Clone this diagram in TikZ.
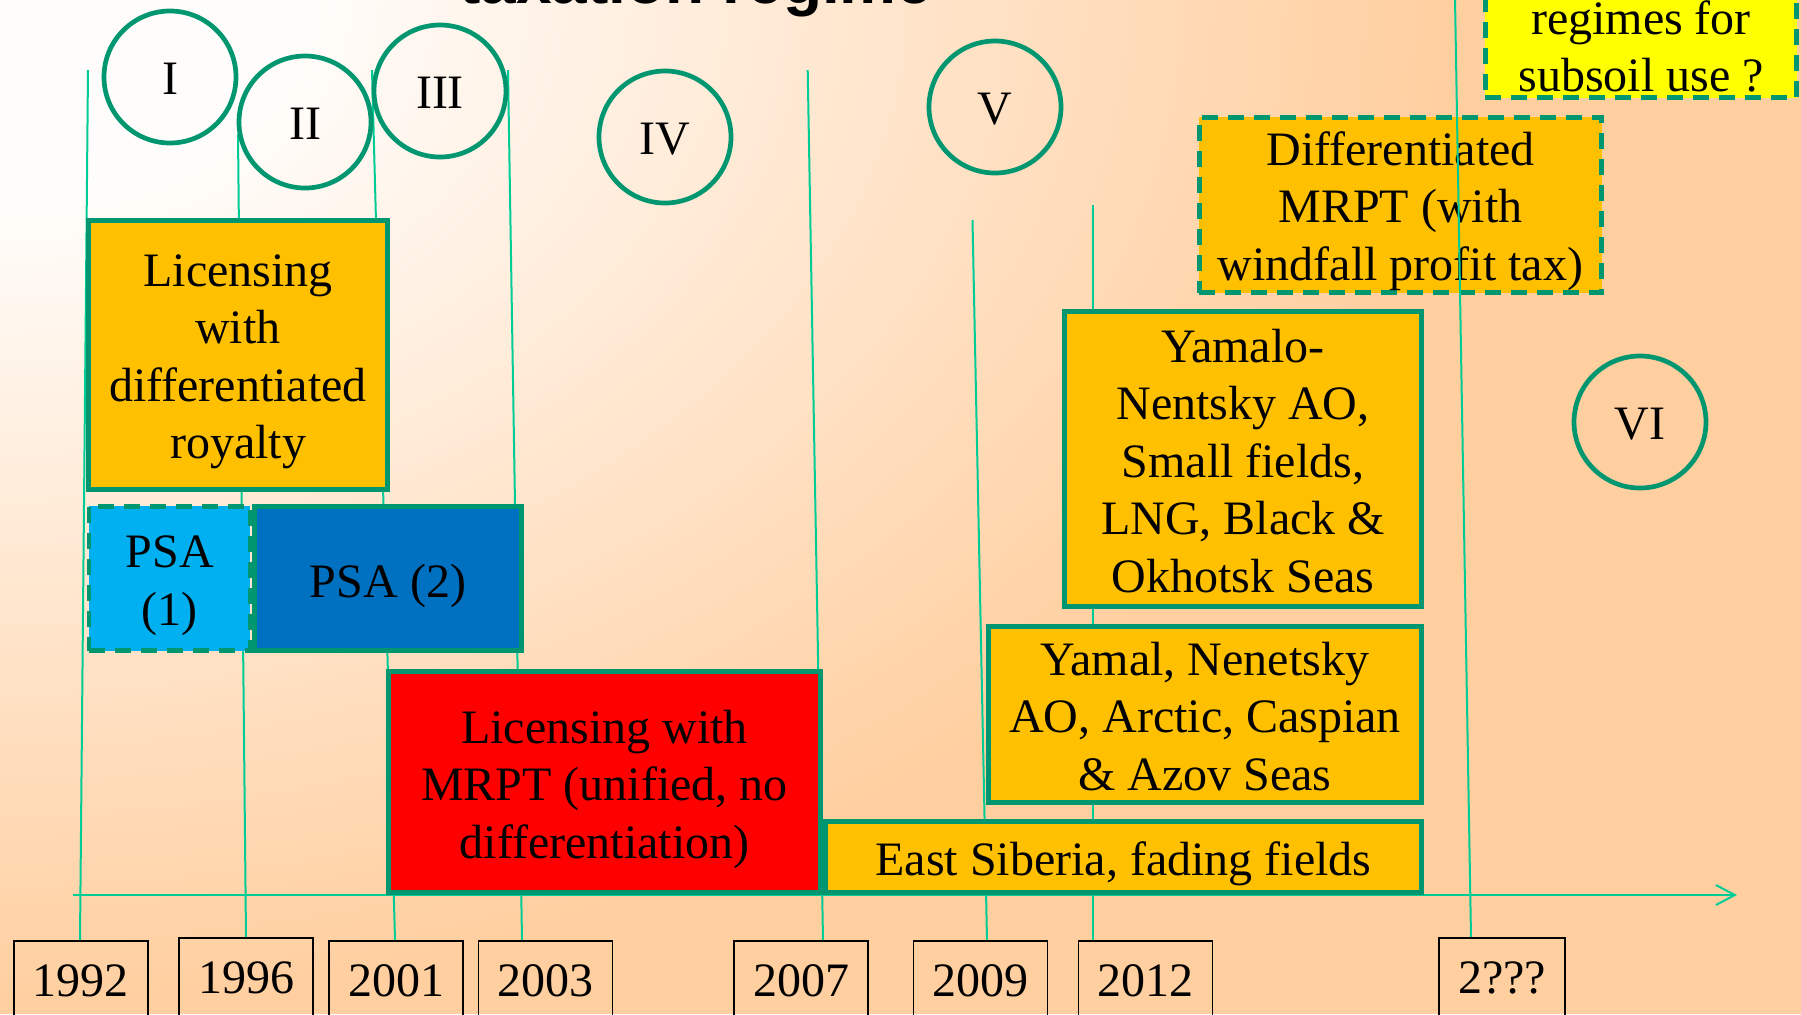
\documentclass[tikz,border=0pt]{standalone}
\usepackage{fontspec}
\setmainfont{Liberation Serif}
\newfontfamily\headfont{Liberation Sans}
\usetikzlibrary{arrows.meta}

\definecolor{peach}{RGB}{255,207,160}
\definecolor{warmwhite}{RGB}{255,253,251}
\definecolor{rimgreen}{RGB}{0,150,112}
\definecolor{guide}{RGB}{0,204,150}
\definecolor{amber}{RGB}{255,192,0}
\definecolor{skyblue}{RGB}{0,176,240}
\definecolor{deepblue}{RGB}{0,112,192}
\definecolor{brightred}{RGB}{255,0,0}
\definecolor{lemon}{RGB}{255,255,0}

\pgfdeclareradialshading{backdrop}{\pgfpoint{0bp}{0bp}}{color(0bp)=(warmwhite); color(5bp)=(warmwhite); color(25bp)=(peach); color(50bp)=(peach)}

\tikzset{
  bodyfont/.style={font=\fontsize{24pt}{28.75pt}\selectfont},
  regbox/.style={draw=rimgreen, line width=2.3pt, inner sep=0pt},
  dashbox/.style={regbox, dash pattern=on 8pt off 5pt},
  boxtext/.style={bodyfont, align=center, inner sep=0pt},
  era/.style={circle, draw=rimgreen, line width=2.35pt, minimum size=66pt, inner sep=0pt,
    text height=17.9pt, text depth=0pt, bodyfont},
  yearbox/.style={draw=black, line width=0.8pt, anchor=north, minimum width=67pt,
    text height=28pt, text depth=40pt, inner ysep=0pt, bodyfont},
  guideline/.style={draw=guide, line width=1pt},
}

\begin{document}
\begin{tikzpicture}[x=0.5pt,y=-0.5pt]
\useasboundingbox (0,0) rectangle (1801,1014);
\clip (0,0) rectangle (1801,1014);

% backdrop: warm white in the upper left fading to peach
\fill[peach] (0,0) rectangle (1801,1014);
\shade[shading=backdrop] (0,0) ellipse [x radius=725pt, y radius=500pt];

% heading (runs off the top edge)
\node[font=\headfont\bfseries\fontsize{32pt}{36pt}\selectfont, anchor=base, inner sep=0pt] (title) at (696,3) {taxation regime};

% year guide lines
\coordinate (t1992) at (88,70);    \coordinate (b1992) at (80,940);
\coordinate (t1996) at (238,134);  \coordinate (b1996) at (246,937);
\coordinate (t2001) at (372,70);   \coordinate (b2001) at (395,940);
\coordinate (t2003) at (508,70);   \coordinate (b2003) at (522,940);
\coordinate (t2007) at (807.7,70); \coordinate (b2007) at (823,940);
\coordinate (t2009) at (972.5,220);\coordinate (b2009) at (987,940);
\coordinate (t2012) at (1093,205); \coordinate (b2012) at (1093,940);
\coordinate (t2xxx) at (1455,-2);  \coordinate (b2xxx) at (1471,937);

\foreach \yr in {1992,1996,2001,2003,2007,2009,2012}
  \draw[guideline] (t\yr) -- (b\yr);

% time axis
\coordinate (axisstart) at (73,895);
\coordinate (axisend) at (1737,895);
\draw[guideline, -{Straight Barb[length=9.5pt,width=10pt]}] (axisstart) -- (axisend);

% regimes
\node[regbox, fill=amber, minimum width=149.7pt, minimum height=134.7pt] (royalty) at (238,355) {};
\node[boxtext, yshift=-3.5pt] (royaltytext) at (royalty.center)
  {Licensing\\with\\differentiated\\royalty};

\node[regbox, fill=deepblue, minimum width=133.7pt, minimum height=72.2pt] (psatwo) at (388,578.5) {};
\node[boxtext, yshift=-3.5pt] (psatwotext) at (psatwo.center) {PSA (2)};

\node[dashbox, fill=skyblue, minimum width=80.7pt, minimum height=72.2pt] (psaone) at (169.7,578.5) {};
\node[boxtext, yshift=-3.5pt] (psaonetext) at (psaone.center) {PSA\\(1)};

\node[regbox, fill=brightred, minimum width=216.2pt, minimum height=110.7pt] (mrpt) at (604.5,782) {};
\node[boxtext, yshift=-3.5pt] (mrpttext) at (mrpt.center)
  {Licensing with\\MRPT (unified, no\\differentiation)};

\node[regbox, fill=amber, minimum width=298.2pt, minimum height=35.7pt] (siberia) at (1123.5,857) {};
\node[boxtext, yshift=-3.5pt] (siberiatext) at (siberia.center) {East Siberia, fading fields};

\node[regbox, fill=amber, minimum width=216.7pt, minimum height=88.2pt] (yamal) at (1205,714.5) {};
\node[boxtext, yshift=-1pt] (yamaltext) at (yamal.center)
  {Yamal, Nenetsky\\AO, Arctic, Caspian\\\& Azov Seas};

\node[regbox, fill=amber, minimum width=178.7pt, minimum height=147.7pt] (yamalo) at (1243,459) {};
\node[boxtext, yshift=-1pt] (yamalotext) at (yamalo.center)
  {Yamalo-\\Nentsky AO,\\Small fields,\\LNG, Black \&\\Okhotsk Seas};

\node[dashbox, fill=amber, minimum width=201.2pt, minimum height=87.7pt] (windfall) at (1400.5,205) {};
\node[boxtext, yshift=-3pt] (windfalltext) at (windfall.center)
  {Differentiated\\MRPT (with\\windfall profit tax)};

\node[dashbox, fill=lemon, minimum width=155.7pt, minimum height=77.7pt] (future) at (1641,20) {};
\node[boxtext, anchor=north] (futuretext) at (1641,0) {regimes for\\subsoil use ?};

% stages
\node[era] (s1) at (170,77) {I};
\node[era] (s2) at (305,122) {II};
\node[era] (s3) at (440,91) {III};
\node[era] (s4) at (665,137) {IV};
\node[era] (s5) at (995,107) {V};
\node[era] (s6) at (1640,422) {VI};

% open-ended guide line
\draw[guideline] (t2xxx) -- (b2xxx);

% years
\node[yearbox] (y1992) at (80.9,940) {1992};
\node[yearbox] (y1996) at (246,937) {1996};
\node[yearbox] (y2001) at (396,940) {2001};
\node[yearbox] (y2003) at (545.3,940) {2003};
\node[yearbox] (y2007) at (801,940) {2007};
\node[yearbox] (y2009) at (980.5,940) {2009};
\node[yearbox] (y2012) at (1145.5,940) {2012};
\node[yearbox, minimum width=63pt] (y2xxx) at (1502,937) {2???};
\end{tikzpicture}
\end{document}
